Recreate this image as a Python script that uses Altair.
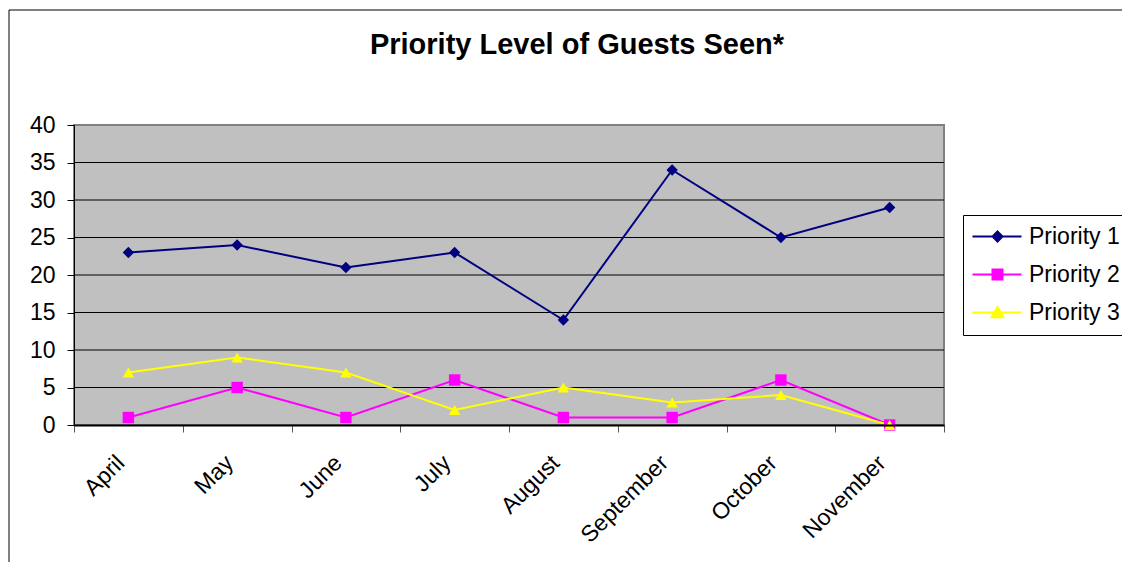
import altair as alt
import pandas as pd

months = ["April", "May", "June", "July", "August", "September", "October", "November"]
series = ["Priority 1", "Priority 2", "Priority 3"]
priority_1 = [23, 24, 21, 23, 14, 34, 25, 29]
priority_2 = [1, 5, 1, 6, 1, 1, 6, 0]
priority_3 = [7, 9, 7, 2, 5, 3, 4, 0]
y_ticks = [0, 5, 10, 15, 20, 25, 30, 35, 40]

colors = ["#000080", "#FF00FF", "#FFFF00"]
shapes = ["diamond", "square", "triangle-up"]
legend_shapes = [
    "M-2.4,0H7.4M2.6,-1L3.6,0L2.6,1L1.6,0Z",
    "M-2.4,0H7.4M1.6,-1H3.6V1H1.6Z",
    "M-2.4,0H7.4M2.6,-1.1L3.8,0.95L1.4,0.95Z",
]

rows = []
for s, vals in zip(series, [priority_1, priority_2, priority_3]):
    for m, v in zip(months, vals):
        rows.append({"month": m, "series": s, "value": v})
df = pd.DataFrame(rows)
grid_df = pd.DataFrame({"value": y_ticks})

FONT = "Liberation Sans"
W, H = 870, 300

x_enc = alt.X(
    "month:N",
    sort=months,
    scale=alt.Scale(type="band", domain=months, paddingInner=0, paddingOuter=0),
    axis=alt.Axis(
        title=None, labelAngle=315, labelAlign="right", labelBaseline="middle",
        labelFont=FONT, labelFontSize=23, labelColor="#000", labelPadding=27,
        labelOffset=-8, zindex=1,
        tickBand="extent", grid=False, tickSize=7, tickColor="#555",
        domainColor="#000", domainWidth=2,
    ),
)
y_enc = alt.Y(
    "value:Q",
    scale=alt.Scale(domain=[0, 40], nice=False),
    axis=alt.Axis(
        title=None, values=y_ticks, labelFont=FONT, labelFontSize=23,
        labelColor="#000", labelPadding=12, tickSize=7, tickColor="#000",
        domainColor="#000", domainWidth=1, grid=False, zindex=1,
    ),
)
color_enc = alt.Color("series:N", scale=alt.Scale(domain=series, range=colors), legend=None)

frame = alt.Chart(pd.DataFrame({"f": [0]})).mark_rect(
    fill="#fff", fillOpacity=0, stroke="#000", strokeWidth=1
).encode(
    x=alt.value(-65), x2=alt.value(1300), y=alt.value(-115), y2=alt.value(700)
)

plot_bg = alt.Chart(pd.DataFrame({"f": [0]})).mark_rect(
    fill="#C0C0C0", stroke="#808080", strokeWidth=2
).encode(
    x=alt.value(0), x2=alt.value(W), y=alt.value(0), y2=alt.value(H)
)

grid = alt.Chart(grid_df).transform_filter(
    (alt.datum.value > 0) & (alt.datum.value < 40)
).mark_rule(color="#000", strokeWidth=1).encode(
    y=y_enc, x=alt.value(0), x2=alt.value(W)
)

lines = alt.Chart(df).mark_line(strokeWidth=2).encode(x=x_enc, y=y_enc, color=color_enc)

points = alt.Chart(df).mark_point(filled=True, size=130, opacity=1).encode(
    x=x_enc, y=y_enc, color=color_enc,
    shape=alt.Shape("series:N", scale=alt.Scale(domain=series, range=shapes), legend=None),
)

leg = alt.Legend(
    title=None, orient="none", legendX=889, legendY=90,
    strokeColor="#000", fillColor="#fff", padding=10,
    labelFont=FONT, labelFontSize=23, labelColor="#000", labelOffset=33,
    symbolSize=100, symbolStrokeWidth=2, symbolOpacity=1, rowPadding=14,
)
legend_layer = alt.Chart(df).transform_filter(alt.datum.value < -1).mark_point(
    filled=True, size=100
).encode(
    fill=alt.Fill("series:N", scale=alt.Scale(domain=series, range=colors), legend=leg),
    stroke=alt.Stroke("series:N", scale=alt.Scale(domain=series, range=colors), legend=leg),
    shape=alt.Shape("series:N", scale=alt.Scale(domain=series, range=legend_shapes), legend=leg),
)

chart = alt.layer(frame, plot_bg, grid, lines, points, legend_layer).resolve_scale(
    shape="independent", fill="independent", stroke="independent"
).properties(
    width=W,
    height=H,
    background="#fff",
    title=alt.TitleParams(
        text="Priority Level of Guests Seen*", font=FONT, fontSize=29,
        fontWeight="bold", color="#000", anchor="middle", dx=68,
        baseline="alphabetic", offset=-73,
    ),
    autosize=alt.AutoSizeParams(type="none"),
    padding={"left": 66, "top": 117, "right": 178, "bottom": 137},
).configure_view(
    stroke="#808080", strokeWidth=2
)

chart.save("out.html", embed_options={"renderer": "svg", "actions": False})
